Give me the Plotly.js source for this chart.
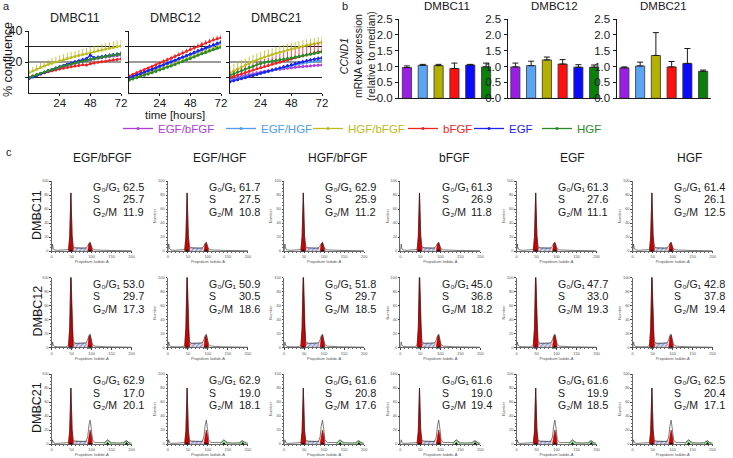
<!DOCTYPE html>
<html><head><meta charset="utf-8">
<script src="https://cdn.plot.ly/plotly-3.0.1.min.js"></script>
<style>html,body{margin:0;padding:0;background:#fff}#chart{width:733px;height:458px}</style>
</head><body><div id="chart"></div>
<script>
// ---------------- DATA ----------------
const CONDITIONS = ['EGF/bFGF','EGF/HGF','HGF/bFGF','bFGF','EGF','HGF'];
const LINE_COLORS = ['#b03ed8','#4f9cf0','#bdbb22','#ec2424','#1f23e6','#2a8a2a'];
const BAR_COLORS = ['#9a1ee6','#5aa5f5','#b3b000','#ff1010','#0a0aff','#0a800a'];
const CELL_LINES = ['DMBC11','DMBC12','DMBC21'];
const HOURS = [0,3,6,9,12,15,18,21,24,27,30,33,36,39,42,45,48,51,54,57,60,63,66,69,72];
const X_TICKS_A = [24,48,72];

// % confluence, DMBC11
const conf11_EGFbFGF = [10.0,10.8,11.7,12.5,13.4,14.2,15.0,15.8,16.5,17.2,17.9,18.5,19.2,19.8,20.4,21.0,21.5,21.9,22.4,22.8,23.2,23.5,23.8,24.1,24.4];
const conf11_EGFHGF  = [9.8,10.7,11.6,12.5,13.4,14.3,15.1,15.9,16.7,17.4,18.1,18.8,19.5,20.2,20.8,21.4,22.0,22.5,23.0,23.4,23.8,24.1,24.4,24.7,25.0];
const conf11_HGFbFGF = [13.0,14.2,15.4,16.5,17.5,18.4,19.2,20.0,20.8,21.5,22.2,22.9,23.6,24.2,24.8,25.4,26.0,26.6,27.2,27.8,28.4,28.9,29.4,29.9,30.4];
const conf11_bFGF    = [10.3,11.0,11.7,12.4,13.1,13.7,14.3,14.9,15.5,16.0,16.5,17.0,17.4,17.8,18.2,18.0,18.9,19.4,19.8,20.1,20.5,20.9,21.3,21.6,22.0];
const conf11_EGF     = [9.3,10.3,11.3,12.3,13.3,14.3,15.2,16.1,17.0,17.8,18.6,19.4,20.1,20.8,21.5,22.2,24.3,22.8,23.0,23.4,23.8,24.2,24.6,25.0,25.4];
const conf11_HGF     = [10.0,10.9,11.8,12.7,13.6,14.4,15.2,16.0,16.7,17.4,18.1,18.7,19.3,19.9,20.5,21.0,21.6,22.1,22.6,23.1,23.6,24.0,24.4,24.8,25.2];
// % confluence, DMBC12
const conf12_EGFbFGF = [9.6,10.5,11.4,12.3,13.2,14.1,15.0,15.9,16.9,17.9,18.9,19.9,20.9,21.9,22.9,23.9,24.9,25.9,26.9,27.9,28.8,29.7,30.6,31.4,32.2];
const conf12_EGFHGF  = [9.4,10.3,11.2,12.1,13.0,13.9,14.8,15.7,16.7,17.7,18.7,19.7,20.7,21.7,22.7,23.7,24.7,25.7,26.7,27.7,28.6,29.6,30.5,31.4,32.3];
const conf12_HGFbFGF = [8.8,9.6,10.4,11.2,12.0,12.8,13.6,14.4,15.3,16.2,17.1,18.0,19.0,20.0,21.0,22.0,23.0,24.0,25.0,26.0,26.9,27.8,28.7,29.6,30.4];
const conf12_bFGF    = [11.0,12.0,13.0,14.0,15.0,16.0,17.0,18.1,19.2,20.3,21.4,22.5,23.6,24.7,25.8,26.9,28.0,29.1,30.2,31.3,32.3,33.3,34.2,35.0,35.7];
const conf12_EGF     = [9.8,10.7,11.6,12.5,13.4,14.3,15.2,16.2,17.2,18.2,19.2,20.2,21.2,22.2,23.2,24.2,25.2,26.2,27.2,28.2,29.2,30.2,31.1,32.0,32.9];
const conf12_HGF     = [8.3,9.1,9.9,10.7,11.5,12.3,13.1,13.9,14.8,15.7,16.6,17.5,18.4,19.3,20.3,21.3,22.3,23.3,24.3,25.3,26.2,27.1,28.0,28.8,29.5];
// % confluence, DMBC21
const conf21_EGFbFGF = [9.0,9.6,10.2,10.8,11.4,12.0,12.5,13.0,13.5,14.0,14.4,14.8,15.1,15.4,15.7,16.0,16.3,16.6,16.9,17.1,17.3,17.5,17.7,17.9,18.0];
const conf21_EGFHGF  = [8.0,8.6,9.2,9.8,10.4,11.0,11.6,12.2,12.8,13.4,14.0,14.6,15.2,15.8,16.4,17.0,17.6,18.2,18.7,19.2,19.7,20.1,20.5,20.9,21.2];
const conf21_HGFbFGF = [13.0,14.3,15.6,16.8,18.0,19.2,20.3,21.3,22.3,23.2,24.0,24.8,25.6,26.3,27.0,27.7,28.4,29.0,29.6,30.2,30.8,31.3,31.8,32.3,32.8];
const conf21_bFGF    = [10.0,10.8,11.6,12.4,13.2,14.0,14.8,15.6,16.4,17.1,17.8,18.5,19.2,19.9,20.6,21.3,22.0,22.7,23.4,24.1,24.7,25.3,25.9,26.4,26.9];
const conf21_EGF     = [7.3,7.9,8.5,9.2,9.9,10.6,11.3,12.0,12.7,13.4,14.1,14.8,15.5,16.2,16.9,17.6,18.3,19.0,19.6,20.2,20.8,21.3,21.8,22.3,22.7];
const conf21_HGF     = [11.5,12.5,13.5,14.5,15.5,16.4,17.3,18.2,19.1,19.7,20.2,20.6,21.0,21.4,21.8,22.2,22.6,23.0,23.5,24.0,24.5,25.0,25.5,26.0,26.5];

// error (SD, drawn above)
const err11_EGFbFGF = [0.6,0.7,0.7,0.8,0.8,0.9,0.9,1.0,1.0,1.0,1.1,1.1,1.1,1.2,1.2,1.2,1.3,1.3,1.3,1.4,1.4,1.4,1.5,1.5,1.5];
const err11_EGFHGF  = [0.6,0.7,0.7,0.8,0.8,0.9,0.9,1.0,1.0,1.1,1.1,1.1,1.2,1.2,1.2,1.3,1.3,1.3,1.4,1.4,1.4,1.5,1.5,1.5,1.6];
const err11_HGFbFGF = [2.4,2.6,2.8,3.0,3.1,3.2,3.3,3.4,3.5,3.5,3.6,3.6,3.6,3.7,3.7,3.7,3.7,3.8,3.8,3.8,3.8,3.8,3.9,3.9,3.9];
const err11_bFGF    = [0.5,0.5,0.6,0.6,0.6,0.7,0.7,0.7,0.8,0.8,0.8,0.8,0.9,0.9,0.9,0.9,1.0,1.0,1.0,1.0,1.0,1.1,1.1,1.1,1.1];
const err11_EGF     = [0.5,0.6,0.6,0.7,0.7,0.7,0.8,0.8,0.8,0.9,0.9,0.9,1.0,1.0,1.0,1.1,1.2,1.1,1.1,1.1,1.2,1.2,1.2,1.2,1.3];
const err11_HGF     = [0.6,0.6,0.7,0.7,0.8,0.8,0.8,0.9,0.9,0.9,1.0,1.0,1.0,1.1,1.1,1.1,1.2,1.2,1.2,1.2,1.3,1.3,1.3,1.3,1.4];
const err12_EGFbFGF = [0.5,0.5,0.6,0.6,0.6,0.7,0.7,0.7,0.8,0.8,0.8,0.9,0.9,0.9,1.0,1.0,1.0,1.1,1.1,1.1,1.2,1.2,1.2,1.3,1.3];
const err12_EGFHGF  = [0.5,0.6,0.6,0.6,0.7,0.7,0.7,0.8,0.8,0.8,0.9,0.9,0.9,1.0,1.0,1.0,1.1,1.1,1.1,1.2,1.2,1.2,1.3,1.3,1.3];
const err12_HGFbFGF = [0.5,0.5,0.5,0.6,0.6,0.6,0.7,0.7,0.7,0.8,0.8,0.8,0.9,0.9,0.9,1.0,1.0,1.0,1.1,1.1,1.1,1.2,1.2,1.2,1.3];
const err12_bFGF    = [0.9,1.0,1.0,1.1,1.1,1.2,1.2,1.3,1.3,1.4,1.4,1.5,1.5,1.5,1.6,1.6,1.7,1.7,1.7,1.8,1.8,1.8,1.9,1.9,1.9];
const err12_EGF     = [0.6,0.6,0.7,0.7,0.7,0.8,0.8,0.8,0.9,0.9,0.9,1.0,1.0,1.0,1.1,1.1,1.1,1.2,1.2,1.2,1.3,1.3,1.3,1.4,1.4];
const err12_HGF     = [0.5,0.5,0.6,0.6,0.6,0.7,0.7,0.7,0.8,0.8,0.8,0.9,0.9,0.9,1.0,1.0,1.0,1.0,1.1,1.1,1.1,1.1,1.2,1.2,1.2];
const err21_EGFbFGF = [0.5,0.5,0.6,0.6,0.6,0.7,0.7,0.7,0.7,0.8,0.8,0.8,0.8,0.9,0.9,0.9,0.9,0.9,1.0,1.0,1.0,1.0,1.0,1.0,1.0];
const err21_EGFHGF  = [0.7,0.7,0.8,0.8,0.9,0.9,1.0,1.0,1.0,1.1,1.1,1.1,1.2,1.2,1.2,1.3,1.3,1.3,1.3,1.4,1.4,1.4,1.4,1.5,1.5];
const err21_HGFbFGF = [4.5,4.5,4.4,4.4,4.3,4.3,4.2,4.2,4.2,4.1,4.1,4.1,4.0,4.0,4.0,4.0,3.9,3.9,3.9,3.9,3.8,3.8,3.8,3.8,3.8];
const err21_bFGF    = [3.0,3.3,3.6,3.9,4.1,4.3,4.5,4.7,4.8,4.9,5.0,5.1,5.2,5.3,5.4,5.4,5.5,5.5,5.6,5.6,5.7,5.7,5.8,5.8,5.8];
const err21_EGF     = [0.6,0.6,0.7,0.7,0.7,0.8,0.8,0.8,0.9,0.9,0.9,1.0,1.0,1.0,1.0,1.1,1.1,1.1,1.1,1.2,1.2,1.2,1.2,1.3,1.3];
const err21_HGF     = [0.8,0.8,0.9,0.9,1.0,1.0,1.0,1.1,1.1,1.1,1.2,1.2,1.2,1.3,1.3,1.3,1.3,1.4,1.4,1.4,1.4,1.5,1.5,1.5,1.5];

// CCND1 mRNA expression (relative to median)
const ccnd1_DMBC11 = [0.97,1.04,1.03,0.94,1.05,0.99];
const ccnd1_DMBC12 = [0.99,1.03,1.21,1.08,0.98,0.98];
const ccnd1_DMBC21 = [0.96,1.02,1.35,0.99,1.10,0.85];
const ccnd1sd_DMBC11 = [0.05,0.03,0.04,0.17,0.02,0.12];
const ccnd1sd_DMBC12 = [0.12,0.14,0.09,0.14,0.08,0.07];
const ccnd1sd_DMBC21 = [0.03,0.12,0.72,0.17,0.47,0.04];
const CCND1_TICKS = [0,0.5,1,1.5,2,2.5];

// cell-cycle phases (%)
const g0g1_DMBC11 = [62.5,61.7,62.9,61.3,61.3,61.4];
const s_DMBC11    = [25.7,27.5,25.9,26.9,27.6,26.1];
const g2m_DMBC11  = [11.9,10.8,11.2,11.8,11.1,12.5];
const g0g1_DMBC12 = [53.0,50.9,51.8,45.0,47.7,42.8];
const s_DMBC12    = [29.7,30.5,29.7,36.8,33.0,37.8];
const g2m_DMBC12  = [17.3,18.6,18.5,18.2,19.3,19.4];
const g0g1_DMBC21 = [62.9,62.9,61.6,61.6,61.6,62.5];
const s_DMBC21    = [17.0,19.0,20.8,19.0,19.9,20.4];
const g2m_DMBC21  = [20.1,18.1,17.6,19.4,18.5,17.1];
const PHASE_LABELS = ['G\u2080/G\u2081','S','G\u2082/M'];

// DNA-content histograms (Propidium Iodide-A channel vs. number), per cell line
const HIST_X = [0,2,4,8,15,25,35,42,45,48,51,54,60,70,80,86,90,93,96,99,102,108,120,132,136,140,144,150,165,179,183,187,192,200];
const histTot_DMBC11 = [0,10,3,1.5,1,1,1,2,20,83,22,6,4.5,4,4,4.5,7,11,12.5,7,3,1.5,1,0.8,0.8,0.8,0.8,0.7,0.6,0.5,0.5,0.5,0.4,0.3];
const histTot_DMBC12 = [0,8,3,1.5,1,1,1,3,28,110,30,8,6,6,6,6.5,11,17,19,11,4,2,1.2,1,1,1,1,0.9,0.8,0.6,0.6,0.6,0.5,0.4];
const histTot_DMBC21 = [0,6,2,1,1,1,1,2,18,80,20,5,4,3.5,3.5,4,10,26,34,22,6,2,1.5,2,4,6,4,2,1.5,2,4,4.5,2,1];
const G1_X = [42,45,48,51,54];
const g1Fill_DMBC11 = [0,20,83,22,0];
const g1Fill_DMBC12 = [0,28,110,30,0];
const g1Fill_DMBC21 = [0,18,80,20,0];
const G2_X = [90,93,96,99,102];
const g2Fill_DMBC11 = [0,10,12,6,0];
const g2Fill_DMBC12 = [0,15,18,10,0];
const g2Fill_DMBC21 = [0,12,20,12,0];
const S_X = [50,60,70,80,88];
const sFill_DMBC11 = [4.5,4.5,4,4,4.5];
const sFill_DMBC12 = [6,6,6,6,6.5];
const sFill_DMBC21 = [4,4,3.5,3.5,4];
const GREEN_X = [130,135,140,145,150,177,182,187,192,197];
const green_DMBC21 = [0,3,5.5,3,0,0,3,4.5,2.5,0];
const peaks_DMBC11 = [48,96];
const peaks_DMBC12 = [48,96];
const peaks_DMBC21 = [48,96,140,187];
const HIST_XTICKS = [0,50,100,150,200];
const HIST_YTICKS = [0,20,40,60,80,100];

// ---------------- BUILD ----------------
const W = 733, H = 458;
const px = v => v / W;
const py = v => 1 - v / H;
const FONT = 'Liberation Sans, Arial, DejaVu Sans, sans-serif';
const INK = '#1a1a1a';

const CONF = [
  [conf11_EGFbFGF,conf11_EGFHGF,conf11_HGFbFGF,conf11_bFGF,conf11_EGF,conf11_HGF],
  [conf12_EGFbFGF,conf12_EGFHGF,conf12_HGFbFGF,conf12_bFGF,conf12_EGF,conf12_HGF],
  [conf21_EGFbFGF,conf21_EGFHGF,conf21_HGFbFGF,conf21_bFGF,conf21_EGF,conf21_HGF]];
const ERR = [
  [err11_EGFbFGF,err11_EGFHGF,err11_HGFbFGF,err11_bFGF,err11_EGF,err11_HGF],
  [err12_EGFbFGF,err12_EGFHGF,err12_HGFbFGF,err12_bFGF,err12_EGF,err12_HGF],
  [err21_EGFbFGF,err21_EGFHGF,err21_HGFbFGF,err21_bFGF,err21_EGF,err21_HGF]];
const CCND1 = [ccnd1_DMBC11, ccnd1_DMBC12, ccnd1_DMBC21];
const CCND1SD = [ccnd1sd_DMBC11, ccnd1sd_DMBC12, ccnd1sd_DMBC21];
const PHASES = [[g0g1_DMBC11,s_DMBC11,g2m_DMBC11],[g0g1_DMBC12,s_DMBC12,g2m_DMBC12],[g0g1_DMBC21,s_DMBC21,g2m_DMBC21]];
const HTOT = [histTot_DMBC11, histTot_DMBC12, histTot_DMBC21];
const HG1 = [g1Fill_DMBC11, g1Fill_DMBC12, g1Fill_DMBC21];
const HG2 = [g2Fill_DMBC11, g2Fill_DMBC12, g2Fill_DMBC21];
const HS = [sFill_DMBC11, sFill_DMBC12, sFill_DMBC21];
const PEAKS = [peaks_DMBC11, peaks_DMBC12, peaks_DMBC21];

const data = [];
const layout = {
  width: W, height: H, margin: {l:0, r:0, t:0, b:0},
  paper_bgcolor: '#fff', plot_bgcolor: 'rgba(0,0,0,0)',
  font: {family: FONT, color: INK, size: 12},
  showlegend: true,
  annotations: [], shapes: []
};
// one legend per condition, placed like the reference's legend row
const LEG_TEXT_X = [158, 261, 348, 443, 509, 577];
CONDITIONS.forEach((c, i) => {
  layout['legend' + (i === 0 ? '' : i + 1)] = {orientation:'h', x: px(LEG_TEXT_X[i] - 40), xanchor:'left',
    y: py(128.5), yanchor:'middle', font:{size:11.5}, bgcolor:'rgba(0,0,0,0)',
    itemwidth:30, borderwidth:0};
});
const axName = i => (i === 1 ? '' : String(i));
function ann(text, x, y, o) {
  layout.annotations.push(Object.assign({text, x: px(x), y: py(y), xref:'paper', yref:'paper',
    showarrow:false, xanchor:'center', yanchor:'middle', font:{size:12}}, o || {}));
}

let ax = 0;
// ----- panel a -----
const A_X = [[29,121],[129,221],[230,322]];
const A_TOP = 31, A_BOT = 93;
const zeros = HOURS.map(() => 0);
for (let k = 0; k < 3; k++) {
  ax++;
  const n = axName(ax);
  layout['xaxis' + n] = {domain:[px(A_X[k][0]), px(A_X[k][1])], range:[0,72], anchor:'y'+n,
    tickvals: X_TICKS_A, ticks:'outside', ticklen:2, tickcolor:INK, showline:true, linecolor:INK,
    linewidth:1, showgrid:false, zeroline:false, tickfont:{size:11.5}, ticklabelstandoff:-3, fixedrange:true};
  layout['yaxis' + n] = {domain:[py(A_BOT), py(A_TOP)], range:[0,40], anchor:'x'+n,
    tickvals:[20,40], ticks:'outside', ticklen:3, tickcolor:INK, showline:true, linecolor:INK,
    showgrid:true, gridcolor:'#9a9a9a', gridwidth:1.3, zeroline:false,
    minor:{tickvals:[10,30], showgrid:true, gridcolor:'#222', gridwidth:1, ticks:'outside', ticklen:3, tickcolor:INK},
    showticklabels: k === 0, tickfont:{size:12.5}, fixedrange:true};
  ann(CELL_LINES[k], (A_X[k][0] + A_X[k][1]) / 2, 18, {font:{size:12.5}});
  for (let i = 0; i < CONDITIONS.length; i++) {
    data.push({type:'scatter', mode:'lines+markers', x:HOURS, y:CONF[k][i],
      xaxis:'x'+n, yaxis:'y'+n, cliponaxis:true,
      name: '<span style="color:' + LINE_COLORS[i] + '">' + CONDITIONS[i] + '</span>',
      legend: 'legend' + (i === 0 ? '' : i + 1),
      legendgroup: CONDITIONS[i], showlegend: k === 0,
      line:{color:LINE_COLORS[i], width:1.3}, marker:{color:LINE_COLORS[i], size:3},
      error_y:{type:'data', symmetric:false, array:ERR[k][i], arrayminus:zeros,
               color:LINE_COLORS[i], thickness:0.8, width:0}});
  }
}
ann('% confluence', 8, 60, {textangle:-90, font:{size:12.5}});
ann('time [hours]', 175, 115.5, {font:{size:11.5}});
ann('a', 6, 6, {font:{size:11}});

// ----- panel b -----
const B_X = [[399,494],[507.5,602],[616.5,711]];
const B_TOP = 19, B_BOT = 98.3;
const zeros6 = CONDITIONS.map(() => 0);
for (let k = 0; k < 3; k++) {
  ax++;
  const n = axName(ax);
  layout['xaxis' + n] = {domain:[px(B_X[k][0]), px(B_X[k][1])], range:[-0.5,5.5], anchor:'y'+n,
    type:'category', showline:true, linecolor:INK, showticklabels:false, ticks:'', showgrid:false,
    zeroline:false, fixedrange:true};
  layout['yaxis' + n] = {domain:[py(B_BOT), py(B_TOP)], range:[0,2.5], anchor:'x'+n,
    tickvals: CCND1_TICKS, tickformat:'.1f', ticks:'outside', ticklen:3, tickcolor:INK,
    showline:true, linecolor:INK, showgrid:false, zeroline:false, tickfont:{size:11.5}, fixedrange:true};
  ann(CELL_LINES[k], (B_X[k][0] + B_X[k][1]) / 2, 6, {font:{size:11.5}});
  data.push({type:'bar', x:CONDITIONS, y:CCND1[k], xaxis:'x'+n, yaxis:'y'+n, width:0.58,
    showlegend:false, marker:{color:BAR_COLORS, line:{color:'#333', width:0.8}},
    error_y:{type:'data', symmetric:false, array:CCND1SD[k], arrayminus:zeros6,
             color:INK, thickness:1, width:3}});
}
ann('<i>CCND1</i><br>mRNA expression<br>(relative to median)', 358, 56, {textangle:-90, font:{size:10.5}});
ann('b', 345, 6, {font:{size:11}});

// ----- panel c -----
const C_X0 = 51.7, C_STEP = 116.2, C_W = 80;
const C_BASE = [251, 347.5, 444], C_H = 70;
const TEXT_TOP = [187, 283.5, 380];
for (let r = 0; r < 3; r++) {
  ann(CELL_LINES[r], 37, C_BASE[r] - 36, {textangle:-90, font:{size:12.5}});
  for (let c = 0; c < 6; c++) {
    ax++;
    const n = axName(ax);
    const x0 = C_X0 + C_STEP * c;
    layout['xaxis' + n] = {domain:[px(x0), px(x0 + C_W)], range:[0,200], anchor:'y'+n,
      tickvals: HIST_XTICKS, ticks:'outside', ticklen:1.5, tickcolor:'#444', showline:true,
      linecolor:'#444', linewidth:0.8, showgrid:false, zeroline:false,
      tickfont:{size:4, color:'#555'}, minor:{dtick:10, ticks:'outside', ticklen:1, tickcolor:'#666'},
      title:{text:'Propidium Iodide-A', font:{size:4, color:'#555'}, standoff:1}, fixedrange:true};
    layout['yaxis' + n] = {domain:[py(C_BASE[r]), py(C_BASE[r] - C_H)], range:[0,100], anchor:'x'+n,
      tickvals: HIST_YTICKS, ticks:'outside', ticklen:1.5, tickcolor:'#444', showline:true,
      linecolor:'#444', linewidth:0.8, showgrid:false, zeroline:false,
      tickfont:{size:4, color:'#555'}, minor:{dtick:5, ticks:'outside', ticklen:1, tickcolor:'#666'},
      title:{text:'Number', font:{size:4, color:'#555'}, standoff:1}, fixedrange:true};
    const xa = 'x' + n, ya = 'y' + n;
    data.push({type:'scatter', mode:'lines', x:S_X, y:HS[r], xaxis:xa, yaxis:ya, showlegend:false,
      fill:'tozeroy', fillcolor:'#c9cde6', line:{color:'#8890b8', width:0.5},
      fillpattern:{shape:'/', fgcolor:'#7a80a8', bgcolor:'#d8dbee', size:3, solidity:0.3}});
    data.push({type:'scatter', mode:'lines', x:G1_X, y:HG1[r], xaxis:xa, yaxis:ya, showlegend:false,
      fill:'tozeroy', fillcolor:'#d40000', line:{color:'#a00000', width:0.6}});
    data.push({type:'scatter', mode:'lines', x:G2_X, y:HG2[r], xaxis:xa, yaxis:ya, showlegend:false,
      fill:'tozeroy', fillcolor:'#d40000', line:{color:'#a00000', width:0.6}});
    if (r === 2) {
      data.push({type:'scatter', mode:'lines', x:GREEN_X, y:green_DMBC21, xaxis:xa, yaxis:ya, showlegend:false,
        fill:'tozeroy', fillcolor:'rgba(120,210,120,0.45)', line:{color:'#2da02d', width:0.7}});
    }
    data.push({type:'scatter', mode:'lines', x:HIST_X, y:HTOT[r], xaxis:xa, yaxis:ya, showlegend:false,
      line:{color:'#222', width:0.6}});
    data.push({type:'scatter', mode:'markers', x:PEAKS[r], y:PEAKS[r].map(() => 0), xaxis:xa, yaxis:ya,
      showlegend:false, cliponaxis:false, marker:{symbol:'triangle-up', size:4, color:'#111'}});
    for (let j = 0; j < 3; j++) {
      const yy = TEXT_TOP[r] + 12.5 * j;
      ann(PHASE_LABELS[j], 91 + C_STEP * c, yy, {xanchor:'left', font:{size:10.5}});
      ann(PHASES[r][j][c].toFixed(1), 145.5 + C_STEP * c, yy, {xanchor:'right', font:{size:11}});
    }
  }
}
for (let c = 0; c < 6; c++) ann(CONDITIONS[c], 102 + 117.5 * c, 158, {font:{size:12}});
ann('c', 9, 152, {font:{size:11}});

Plotly.newPlot('chart', data, layout, {displayModeBar:false, staticPlot:true});
</script>
</body></html>
